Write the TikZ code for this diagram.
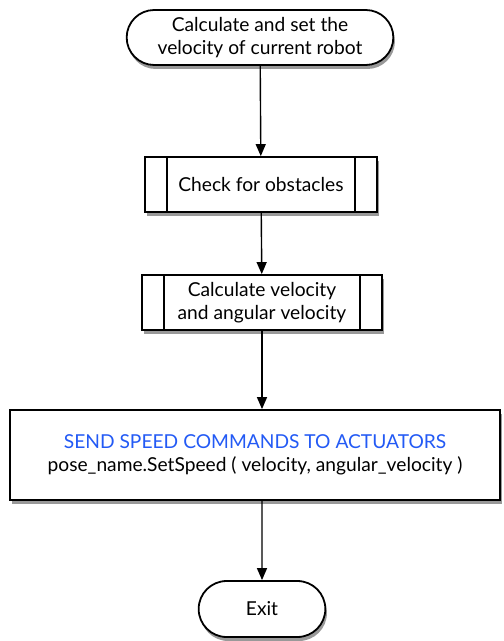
\documentclass[tikz,border=0pt]{standalone}
\usepackage{fontspec}
\setmainfont{Lato}
\usepackage{xcolor}
\usetikzlibrary{calc, positioning, arrows.meta, shapes.misc, shadows}
\definecolor{cmdblue}{RGB}{35,90,245}
\tikzset{
    base/.style={draw, line width=0.9pt, fill=white, align=center, font=\fontsize{9.6}{11.5}\selectfont,
        drop shadow={shadow xshift=0.8pt, shadow yshift=-2pt, opacity=0.5, fill=black!80}},
    terminal/.style={base, rounded rectangle, minimum height=27.5pt},
    process/.style={base, rectangle, minimum height=27.5pt, inner xsep=14pt},
    flow/.style={-{Triangle[length=6pt,width=5pt]}, line width=0.7pt}
}

\begin{document}
\begin{tikzpicture}[x=0.5pt, y=-0.5pt]
    \useasboundingbox (0,0) rectangle (503,641);

    % Start
    \node[terminal, minimum width=140pt] (start) at (260,37.5) {Calculate and set the\\velocity of current robot};

    % Predefined processes
    \node[process, minimum width=116pt] (check) at (261,184.5) {Check for obstacles};
    \node[process, minimum width=120pt] (calcvel) at (262,302.5) {Calculate velocity\\and angular velocity};
    \foreach \n in {check, calcvel} {
        \draw[line width=0.9pt] ($(\n.north west)+(11.5pt,0)$) -- ($(\n.south west)+(11.5pt,0)$);
        \draw[line width=0.9pt] ($(\n.north east)+(-11.5pt,0)$) -- ($(\n.south east)+(-11.5pt,0)$);
    }

    % Actuators
    \node[base, rectangle, minimum width=245pt, minimum height=45pt] (send) at (255,455)
        {{\color{cmdblue}SEND SPEED COMMANDS TO ACTUATORS}\\pose\_name.SetSpeed ( velocity, angular\_velocity )};

    % Exit
    \node[terminal, minimum width=70pt, minimum height=28pt] (exit) at (262,609) {Exit};

    % Flow
    \draw[flow] (start) -- (check);
    \draw[flow] (check) -- (calcvel);
    \draw[flow] (calcvel) -- (send.north -| calcvel.south);
    \draw[flow] (send.south -| exit.north) -- (exit);
\end{tikzpicture}
\end{document}
